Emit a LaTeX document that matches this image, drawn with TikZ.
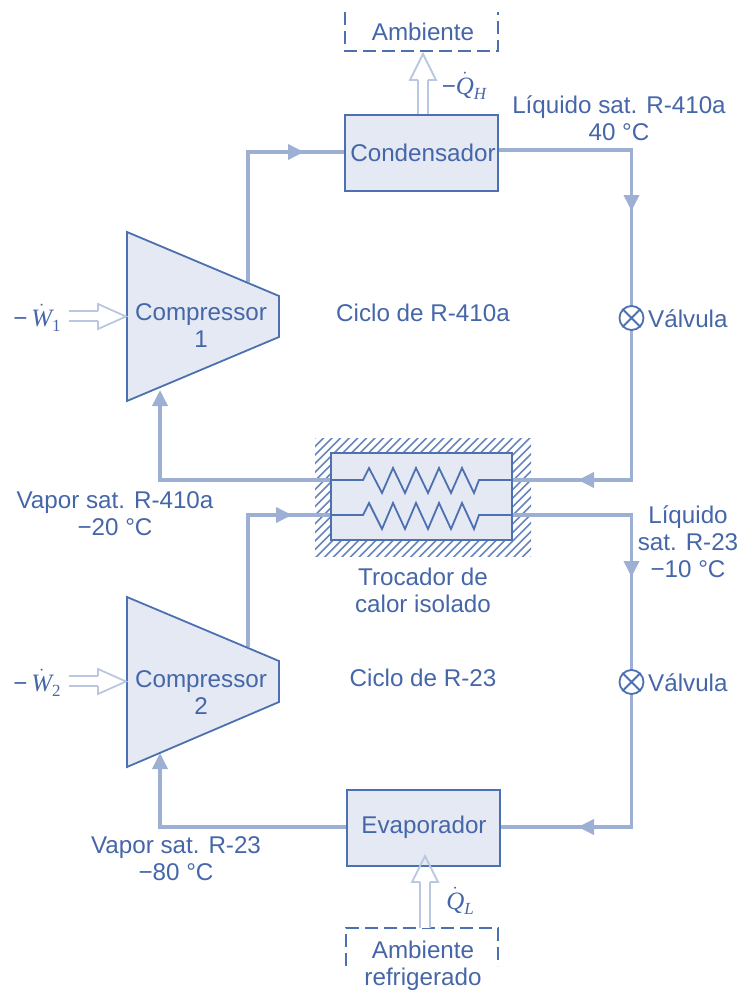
\documentclass[tikz,border=0pt]{standalone}
\usepackage{fontspec}
\setmainfont{Liberation Sans}
\newfontfamily\qserif{Liberation Serif}[Scale=1.0]
\usetikzlibrary{arrows.meta}
\definecolor{inktxt}{HTML}{4566A8}
\definecolor{boxline}{HTML}{4C70B0}
\definecolor{boxfill}{HTML}{E4E9F3}
\definecolor{flowcol}{HTML}{9DB0D4}
\definecolor{opencol}{HTML}{B9C7E0}
\newcommand{\qsym}[2]{$\dot{\hbox{\fontsize{25}{27}\selectfont\qserif\itshape #1}}$\hbox{\raisebox{-5pt}{\fontsize{17}{18}\selectfont\qserif\itshape #2}}}
\tikzset{
  lbl/.style={text=inktxt,font=\fontsize{24.2}{27}\selectfont,align=center,inner sep=0pt},
  unitbox/.style={draw=boxline,fill=boxfill,line width=1.8pt,inner sep=0pt},
  flow/.style={draw=flowcol,line width=3.6pt,line join=miter},
  flowtip/.style={flow,-{Triangle[length=16pt,width=15pt]}},
  shaft/.style={draw=opencol,line width=1.8pt,double=white,double distance=7.5pt},
  openhead/.style={draw=opencol,line width=1.8pt,line join=miter},
  dashbox/.style={draw=boxline,line width=1.8pt,dash pattern=on 13pt off 6pt},
  valve/.style={circle,draw=boxline,fill=white,line width=1.8pt,minimum size=24pt,inner sep=0pt},
  coil/.style={draw=boxline,line width=1.8pt,line join=miter},
  hatchline/.style={draw=boxline!85,line width=1.6pt}
}
\begin{document}
\begin{tikzpicture}[x=1pt,y=-1pt]
\useasboundingbox (0,0) rectangle (742,990);
% hatching
\begin{scope}
  \clip (315,438) rectangle (531,556);
  \foreach \i in {0,...,44}{
    \draw[hatchline] ({165+\i*8.6},562) -- ({165+\i*8.6+130},432);
  }
\end{scope}
% anchor points
\coordinate (c1out) at (248,282);
\coordinate (c1in) at (160,390);
\coordinate (c2out) at (248,647);
\coordinate (c2in) at (160,753);
\coordinate (hxW1) at (331,480);
\coordinate (hxE1) at (512,480);
\coordinate (hxW2) at (331,515);
\coordinate (hxE2) at (512,515);
\coordinate (condE) at (498,150);
\coordinate (condW) at (345,152);
\coordinate (evE) at (500,827);
\coordinate (evW) at (347,827);
\coordinate (v1) at (631.5,318);
\coordinate (v2) at (631.5,682);
% connectors
\draw[flowtip] (c1out) -- (248,152) -- (304,152);
\draw[flow] (295,152) -- (condW);
\draw[flowtip] (condE) -- (631.5,150) -- (631.5,211);
\draw[flow] (631.5,200) -- (v1);
\draw[flowtip] (v1) -- (631.5,480) -- (578,480);
\draw[flow] (590,480) -- (hxE1);
\draw[flowtip] (hxW1) -- (160,480) -- (c1in);
\draw[flowtip] (c2out) -- (248,515) -- (292,515);
\draw[flow] (282,515) -- (hxW2);
\draw[flowtip] (hxE2) -- (631.5,515) -- (631.5,577);
\draw[flow] (631.5,566) -- (v2);
\draw[flowtip] (v2) -- (631.5,827) -- (578,827);
\draw[flow] (590,827) -- (evE);
\draw[flowtip] (evW) -- (160,827) -- (c2in);
% heat exchanger
\node[unitbox,minimum width=181pt,minimum height=87pt] (hx) at (421.5,496.5) {};
\draw[coil] (hxW1) -- (363,480) -- (369,468) -- (382,493) -- (393,468) -- (405,493) -- (416,468) -- (428,493) -- (439,468) -- (451,493) -- (462,468) -- (474,493) -- (479,480) -- (hxE1);
\draw[coil] (hxW2) -- (363,515) -- (369,503) -- (382,529) -- (393,503) -- (405,529) -- (416,503) -- (428,529) -- (439,503) -- (451,529) -- (462,503) -- (474,529) -- (479,515) -- (hxE2);
% units
\node[unitbox,minimum width=153pt,minimum height=76pt] (cond) at (421.5,153) {};
\node[lbl] (condt) at (423,153) {Condensador};
\node[unitbox,minimum width=153pt,minimum height=76pt] (evap) at (423.5,828) {};
\node[lbl] (evapt) at (424,827) {Evaporador};
\draw[unitbox] (127,232) -- (279,296) -- (279,337) -- (127,401) -- cycle;
\draw[unitbox] (127,597) -- (279,661) -- (279,702) -- (127,767) -- cycle;
\node[lbl] (comp1) at (201,326) {Compressor\\1};
\node[lbl] (comp2) at (201,693) {Compressor\\2};
% valves
\node[valve] (valve1) at (v1) {};
\draw[coil] (valve1.north west) -- (valve1.south east) (valve1.north east) -- (valve1.south west);
\node[valve] (valve2) at (v2) {};
\draw[coil] (valve2.north west) -- (valve2.south east) (valve2.north east) -- (valve2.south west);
% ambient boxes
\coordinate (ambtop) at (423,54);
\coordinate (ambbot) at (425,928);
\draw[dashbox] (345,12) -- (345,51) -- (498,51) -- (498,12);
\draw[dashbox] (346,966) -- (346,928) -- (498,928) -- (498,966);
% open arrows
\draw[shaft] (423,114) -- (423,80);
\draw[openhead] (418,80) -- (410,80) -- (ambtop) -- (436,80) -- (428,80);
\draw[shaft] (425,928) -- (425,882);
\draw[openhead] (420,882) -- (412,882) -- (425,856) -- (438,882) -- (430,882);
\draw[shaft] (69,316) -- (98,316);
\draw[openhead] (98,311) -- (98,304) -- (126,316.5) -- (98,329) -- (98,321);
\draw[shaft] (69,681) -- (98,681);
\draw[openhead] (98,676) -- (98,669) -- (126,681.5) -- (98,694) -- (98,686);
% labels
\node[lbl] (amb1) at (423,32) {Ambiente};
\node[lbl] (amb2) at (423,966) {Ambiente\\refrigerado};
\node[lbl] (qh) at (464,86) {−\qsym{Q}{H}};
\node[lbl] (ql) at (460,901) {\qsym{Q}{L}};
\node[lbl] (w1) at (37,318) {−\,\qsym{W}{\upshape 1}};
\node[lbl] (w2) at (37,683) {−\,\qsym{W}{\upshape 2}};
\node[lbl] (s1) at (619,118) {Líquido sat. R-410a\\40 °C};
\node[lbl] (cy1) at (423,313) {Ciclo de R-410a};
\node[lbl,anchor=west] (vl1) at (648,319) {Válvula};
\node[lbl] (s2) at (115,514) {Vapor sat. R-410a\\−20 °C};
\node[lbl] (hxt) at (423,590) {Trocador de\\calor isolado};
\node[lbl] (s3) at (688,542) {Líquido\\sat. R-23\\−10 °C};
\node[lbl] (cy2) at (423,678) {Ciclo de R-23};
\node[lbl,anchor=west] (vl2) at (648,683) {Válvula};
\node[lbl] (s4) at (176,859) {Vapor sat. R-23\\−80 °C};
\end{tikzpicture}
\end{document}
